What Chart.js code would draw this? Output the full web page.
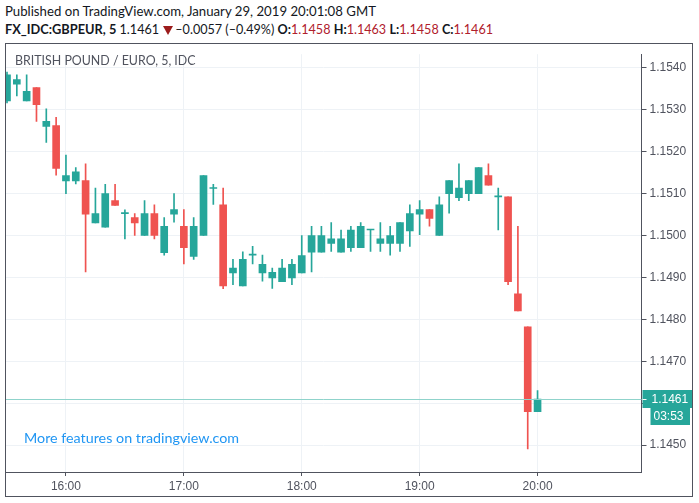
<!DOCTYPE html>
<html>
<head>
<meta charset="utf-8">
<script src="https://cdn.jsdelivr.net/npm/chart.js@4.4.1/dist/chart.umd.min.js"></script>
<style>
  html, body { margin:0; padding:0; background:#ffffff; }
  body { width:699px; height:503px; position:relative; overflow:hidden; font-family: Lato, "Liberation Sans", sans-serif; }
  .hdr { position:absolute; left:5px; font-size:13px; color:#131722; white-space:nowrap; }
  .b { font-weight:bold; }
  .r { color:#b0202c; }
  .tri { display:inline-block; width:0; height:0; border-left:5px solid transparent; border-right:5px solid transparent; border-top:9px solid #9c1c1c; margin:0 2px 0 1px; vertical-align:-1px; }
  #frame { position:absolute; left:5px; top:43px; width:688px; height:454px; box-sizing:border-box; border:1px solid #50535e; }
  #wrap { position:absolute; left:6px; top:44px; width:686px; height:452px; }
  #wm { position:absolute; left:15px; top:53px; font-size:12.4px; color:#50535e; white-space:nowrap; }
  #more { position:absolute; left:24px; top:429px; font-size:14.3px; color:#2196f3; white-space:nowrap; }
</style>
</head>
<body>
<div class="hdr" style="top:3px;font-size:13.2px;">Published on TradingView.com, January 29, 2019 20:01:08 GMT</div>
<div class="hdr" style="top:21px;font-size:12.6px;"><span class="b" style="font-size:12.8px;">FX_IDC:GBPEUR, 5</span> 1.1461 <span class="tri"></span>–0.0057 (–0.49%) <span class="b">O:</span><span class="r">1.1458</span> <span class="b">H:</span><span class="r">1.1463</span> <span class="b">L:</span><span class="r">1.1458</span> <span class="b">C:</span><span class="r">1.1461</span></div>
<div id="frame"></div>
<div id="wrap"><canvas id="c"></canvas></div>
<div id="wm">BRITISH POUND / EURO, 5, IDC</div>
<div id="more">More features on tradingview.com</div>
<script>
// 5-minute candles, 15:30 .. 20:00
const times = ['15:30','15:35','15:40','15:45','15:50','15:55','16:00','16:05','16:10','16:15','16:20','16:25','16:30','16:35','16:40','16:45','16:50','16:55','17:00','17:05','17:10','17:15','17:20','17:25','17:30','17:35','17:40','17:45','17:50','17:55','18:00','18:05','18:10','18:15','18:20','18:25','18:30','18:35','18:40','18:45','18:50','18:55','19:00','19:05','19:10','19:15','19:20','19:25','19:30','19:35','19:40','19:45','19:50','19:55','20:00'];
const open  = [1.15321,1.15361,1.15321,1.15353,1.15260,1.15262,1.15130,1.15130,1.15131,1.15030,1.15020,1.15083,1.15052,1.15043,1.15000,1.15052,1.14959,1.15051,1.15022,1.14950,1.15000,1.15112,1.15073,1.14911,1.14880,1.14953,1.14911,1.14899,1.14890,1.14899,1.14911,1.14960,1.14960,1.14981,1.14960,1.14971,1.14971,1.15013,1.14981,1.14981,1.14981,1.15011,1.15051,1.15062,1.15000,1.15100,1.15090,1.15100,1.15100,1.15143,1.15092,1.15092,1.14861,1.14782,1.14580];
const high  = [1.15390,1.15383,1.15383,1.15353,1.15302,1.15282,1.15192,1.15162,1.15171,1.15113,1.15122,1.15122,1.15061,1.15052,1.15083,1.15073,1.15043,1.15100,1.15062,1.15043,1.15143,1.15122,1.15113,1.14943,1.14961,1.14974,1.14953,1.14922,1.14943,1.14943,1.15000,1.15022,1.15022,1.15031,1.15013,1.15022,1.15031,1.15013,1.15031,1.15022,1.15031,1.15073,1.15083,1.15062,1.15092,1.15131,1.15171,1.15131,1.15162,1.15171,1.15113,1.15092,1.15022,1.14782,1.14630];
const low   = [1.15316,1.15333,1.15321,1.15272,1.15222,1.15144,1.15100,1.15123,1.14913,1.15030,1.15020,1.15072,1.14992,1.15000,1.15000,1.14992,1.14953,1.15032,1.14932,1.14943,1.15000,1.15074,1.14873,1.14883,1.14880,1.14932,1.14891,1.14874,1.14890,1.14883,1.14911,1.14913,1.14960,1.14962,1.14960,1.14962,1.14971,1.14962,1.14962,1.14953,1.14962,1.14974,1.15002,1.15022,1.15000,1.15053,1.15083,1.15083,1.15100,1.15120,1.15013,1.14883,1.14820,1.14491,1.14580];
const close = [1.15383,1.15372,1.15344,1.15312,1.15272,1.15160,1.15143,1.15152,1.15051,1.15052,1.15100,1.15072,1.15053,1.15030,1.15052,1.15000,1.15022,1.15062,1.14971,1.15022,1.15143,1.15112,1.14880,1.14922,1.14943,1.14953,1.14931,1.14912,1.14922,1.14931,1.14952,1.15000,1.15000,1.14992,1.14992,1.15013,1.15022,1.15013,1.14992,1.15000,1.15031,1.15052,1.15062,1.15041,1.15073,1.15131,1.15113,1.15131,1.15162,1.15120,1.15092,1.14890,1.14820,1.14580,1.14610];
const priceTicks = [1.1450,1.1460,1.1470,1.1480,1.1490,1.1500,1.1510,1.1520,1.1530,1.1540];
const timeTickLabels = ['16:00','17:00','18:00','19:00','20:00'];
const countdown = '03:53';

const UP = '#26a69a', DOWN = '#ef5350';
const colors = close.map((c,i) => c >= open[i] ? UP : DOWN);
const wickData = times.map((t,i) => ({x:i, y:[low[i], high[i]]}));
const bodyData = times.map((t,i) => ({x:i, y:[open[i], close[i]]}));
const last = close.length - 1;

const lastPricePlugin = {
  id: 'lastPrice',
  afterDatasetsDraw(chart) {
    const {ctx, chartArea, scales:{y}} = chart;
    const py = Math.round(y.getPixelForValue(close[last])) + 0.5;
    ctx.save();
    ctx.strokeStyle = '#8fd3cb';
    ctx.lineWidth = 1;
    ctx.beginPath(); ctx.moveTo(chartArea.left, py); ctx.lineTo(chartArea.right, py); ctx.stroke();
    ctx.restore();
  },
  afterDraw(chart) {
    const {ctx, chartArea, scales:{y}} = chart;
    const py = Math.round(y.getPixelForValue(close[last]));
    const x0 = chartArea.right + 1;
    ctx.save();
    ctx.fillStyle = UP;
    ctx.fillRect(x0, py - 9, chart.width - x0, 18);
    ctx.fillRect(x0 + 8, py + 9, chart.width - x0 - 10, 17);
    ctx.fillStyle = '#ffffff';
    ctx.font = '12px "Liberation Sans", Arial, sans-serif';
    ctx.textBaseline = 'middle';
    ctx.textAlign = 'left';
    ctx.fillText(close[last].toFixed(4), x0 + 9, py + 0.5);
    ctx.fillText(countdown, x0 + 11, py + 18);
    ctx.strokeStyle = '#ffffff';
    ctx.beginPath(); ctx.moveTo(x0, py + 0.5); ctx.lineTo(x0 + 4, py + 0.5); ctx.stroke();
    ctx.restore();
  }
};

new Chart(document.getElementById('c'), {
  type: 'bar',
  data: {
    datasets: [
      { data: wickData, backgroundColor: colors, barThickness: 1, grouped: false, clip: 0, order: 2 },
      { data: bodyData, backgroundColor: colors, barThickness: 7, minBarLength: 1, grouped: false, clip: 0, order: 1 }
    ]
  },
  options: {
    responsive: true,
    maintainAspectRatio: false,
    animation: false,
    layout: { padding: 0 },
    plugins: { legend: { display:false }, tooltip: { enabled:false } },
    datasets: { bar: { borderWidth: 0, borderSkipped: false } },
    scales: {
      x: {
        type: 'linear', offset: false,
        min: -0.102, max: 64.58,
        afterBuildTicks: s => { s.ticks = timeTickLabels.map(l => ({ value: times.indexOf(l) })); },
        afterFit: s => { s.height = 24; },
        grid: { color: '#eef2f6', tickColor: '#50535e', tickLength: 4, offset: false },
        border: { color: '#50535e', width: 1 },
        ticks: { callback: v => times[v], color: '#50535e', font: { size: 12, family: '"Liberation Sans", Arial, sans-serif' }, padding: 3, maxRotation: 0, autoSkip: false }
      },
      y: {
        type: 'linear', position: 'right', beginAtZero: false,
        min: 1.144359, max: 1.154324,
        afterBuildTicks: s => { s.ticks = priceTicks.map(v => ({ value: v })); },
        afterFit: s => { s.width = 50.5; },
        grid: { color: '#eef2f6', tickColor: '#50535e', tickLength: 5 },
        border: { color: '#50535e', width: 1 },
        ticks: { callback: v => Number(v).toFixed(4), color: '#50535e', font: { size: 12, family: '"Liberation Sans", Arial, sans-serif' }, padding: 3 }
      }
    }
  },
  plugins: [lastPricePlugin]
});
</script>
</body>
</html>
